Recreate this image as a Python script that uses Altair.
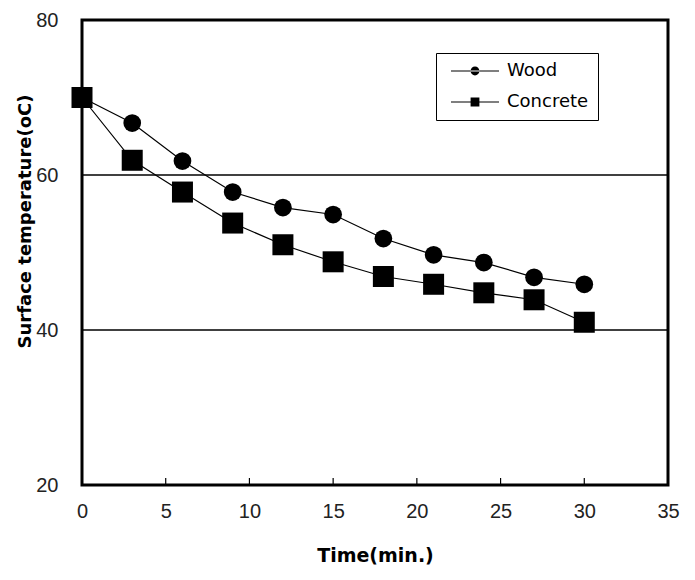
import altair as alt
import pandas as pd

time_min = [0, 3, 6, 9, 12, 15, 18, 21, 24, 27, 30]
wood = [70, 66.7, 61.8, 57.8, 55.8, 54.9, 51.8, 49.7, 48.7, 46.8, 45.9]
concrete = [70, 61.9, 57.8, 53.8, 51.0, 48.8, 46.9, 45.9, 44.8, 43.9, 41.0]
series_names = ["Wood", "Concrete"]
x_ticks = [0, 5, 10, 15, 20, 25, 30, 35]
inner_ticks = [5, 10, 15, 20, 25, 30]
y_ticks = [20, 40, 60, 80]
grid_vals = [40, 60]

df = pd.DataFrame({
    "time": time_min * 2,
    "temp": wood + concrete,
    "series": ["Wood"] * len(time_min) + ["Concrete"] * len(time_min),
})
grid_df = pd.DataFrame({"g": grid_vals})
tick_df = pd.DataFrame({"t": inner_ticks})

FONT = "Liberation Sans"
TFONT = "DejaVu Sans"

xscale = alt.Scale(domain=[0, 35], nice=False, zero=False)
yscale = alt.Scale(domain=[20, 80], nice=False, zero=False)

x_axis = alt.Axis(
    values=x_ticks, title="Time(min.)", grid=False, ticks=False, domain=False,
    labelFlush=False,
    labelFont=FONT, labelFontSize=20, labelColor="#222", labelPadding=16,
    titleFont=TFONT, titleFontSize=19, titleFontWeight="bold", titleColor="#000",
    titleY=70, titleBaseline="middle")
y_axis = alt.Axis(
    values=y_ticks, title="Surface temperature(oC)", grid=False, ticks=False, domain=False,
    labelFlush=False,
    labelFont=FONT, labelFontSize=20, labelColor="#222", labelPadding=24,
    titleFont=TFONT, titleFontSize=18, titleFontWeight="bold", titleColor="#000",
    titleX=-57, titleY=201, titleAngle=270, titleAlign="center", titleBaseline="middle")

X = lambda f: alt.X(f, scale=xscale, axis=x_axis)
Y = lambda f: alt.Y(f, scale=yscale, axis=y_axis)

grid = alt.Chart(grid_df).mark_rule(color="black", strokeWidth=1.3).encode(
    y=Y("g:Q"))

ticks = alt.Chart(tick_df).mark_rule(color="black", strokeWidth=1.2).encode(
    x=X("t:Q"), y=alt.value(465), y2=alt.value(458))

lines = alt.Chart(df).mark_line(color="black", strokeWidth=1.2).encode(
    x=X("time:Q"), y=Y("temp:Q"), detail="series:N", order="time:Q")

wood_pts = alt.Chart(df).transform_filter(alt.datum.series == "Wood").mark_point(
    shape="circle", filled=True, color="black", opacity=1, size=314).encode(
    x=X("time:Q"), y=Y("temp:Q"))

conc_pts = alt.Chart(df).transform_filter(alt.datum.series == "Concrete").mark_point(
    shape="square", filled=True, color="black", opacity=1, size=441).encode(
    x=X("time:Q"), y=Y("temp:Q"))

# legend glyphs: a thin filled bar (the line) with a marker in the middle
wood_path = "M-3,-0.07H3V0.07H-3ZM-0.55,0A0.55,0.55 0 1,0 0.55,0A0.55,0.55 0 1,0 -0.55,0Z"
conc_path = "M-3,-0.07H3V0.07H-3ZM-0.55,-0.55H0.55V0.55H-0.55Z"

legend_layer = alt.Chart(df).mark_point(
    filled=True, color="black", size=0).encode(
    x=X("time:Q"), y=Y("temp:Q"),
    shape=alt.Shape("series:N",
                    scale=alt.Scale(domain=series_names, range=[wood_path, conc_path]),
                    legend=alt.Legend(
                        title=None, orient="none", legendX=354, legendY=33,
                        strokeColor="black", fillColor="white", padding=9,
                        symbolSize=256, symbolFillColor="black",
                        symbolStrokeWidth=0, symbolOpacity=1, symbolOffset=21,
                        labelOffset=23, labelFont="DejaVu Sans", labelFontSize=18,
                        labelColor="#000", rowPadding=13)))

chart = alt.layer(grid, ticks, lines, wood_pts, conc_pts, legend_layer).properties(
    width=586, height=465,
    autosize=alt.AutoSizeParams(type="none"),
    padding={"left": 74, "top": 12, "right": 18, "bottom": 85},
).configure(background="white").configure_view(stroke="black", strokeWidth=3)

chart.save("out.html", embed_options={"renderer": "svg", "actions": False})
